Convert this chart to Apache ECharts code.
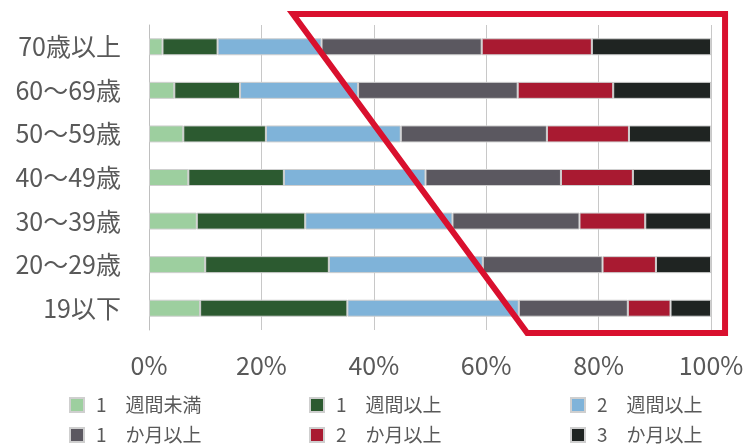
<!DOCTYPE html>
<html>
<head>
<meta charset="utf-8">
<script src="https://cdn.jsdelivr.net/npm/echarts@6/dist/echarts.min.js"></script>
<style>
html,body{margin:0;padding:0;background:#fff;}
#c{width:748px;height:446px;}
</style>
</head>
<body>
<div id="c"></div>
<script>
// Categories (top to bottom)
var categories = ['70歳以上', '60～69歳', '50～59歳', '40～49歳', '30～39歳', '20～29歳', '19以下'];
var xTicks = ['0%', '20%', '40%', '60%', '80%', '100%'];
var seriesNames = ['1 週間未満', '1 週間以上', '2 週間以上', '1 か月以上', '2 か月以上', '3 か月以上'];
// Series values (%), in category order
var lessThan1Week = [2.4, 4.5, 6.1, 7.0, 8.5, 10.0, 9.1];
var week1Plus     = [9.8, 11.7, 14.7, 17.0, 19.3, 22.0, 26.2];
var week2Plus     = [18.5, 21.0, 24.0, 25.2, 26.2, 27.4, 30.5];
var month1Plus    = [28.5, 28.4, 26.0, 24.1, 22.6, 21.3, 19.4];
var month2Plus    = [19.6, 17.0, 14.6, 12.8, 11.7, 9.5, 7.6];
var month3Plus    = [21.2, 17.4, 14.6, 13.9, 11.7, 9.8, 7.2];
// Highlight frame corners in x-axis percent
var frameX = { topLeft: 25.6, right: 102.5, bottomLeft: 67.3 };

var allValues = [lessThan1Week, week1Plus, week2Plus, month1Plus, month2Plus, month3Plus];
var colors = ['#9dcf9f', '#2c5a30', '#7fb3d9', '#5b5860', '#a91a31', '#1f2422'];
var font = '"Noto Sans CJK JP", "Noto Sans", sans-serif';

var chart = echarts.init(document.getElementById('c'), null, {renderer: 'canvas'});

var series = seriesNames.map(function (n, i) {
  return {
    name: n,
    type: 'bar',
    stack: 'total',
    barWidth: 17,
    data: allValues[i],
    itemStyle: { color: colors[i], borderColor: '#cfcfcf', borderWidth: 1 },
    emphasis: { disabled: true }
  };
});

var legendPos = [[69, 395], [309, 395], [570, 395], [69, 425], [309, 425], [570, 425]];
var legends = seriesNames.map(function (n, i) {
  return {
    data: [n],
    left: legendPos[i][0],
    top: legendPos[i][1],
    padding: 0,
    itemWidth: 14,
    itemHeight: 14,
    icon: 'rect',
    selectedMode: false,
    formatter: function (name) { return name.replace(' ', '\u3000'); },
    textStyle: { fontSize: 19, lineHeight: 20, color: '#595959', fontFamily: font, padding: [0, 0, 0, 7] }
  };
});

var grid = { left: 149, right: 37, top: 25, bottom: 116 };

chart.setOption({
  animation: false,
  backgroundColor: '#fff',
  textStyle: { fontFamily: font },
  grid: grid,
  legend: legends,
  xAxis: {
    type: 'value',
    min: 0,
    max: 100,
    interval: 20,
    axisLine: { show: false },
    axisTick: { show: false },
    splitLine: { show: true, lineStyle: { color: '#c8c8c8', width: 1 } },
    axisLabel: {
      fontSize: 25,
      color: '#595959',
      fontFamily: font,
      margin: 23,
      formatter: function (v) { return xTicks[Math.round(v / 20)]; }
    }
  },
  yAxis: {
    type: 'category',
    inverse: true,
    data: categories,
    axisLine: { show: true, lineStyle: { color: '#bfbfbf', width: 1 } },
    axisTick: { show: false },
    axisLabel: { fontSize: 25, color: '#595959', fontFamily: font, margin: 28 }
  },
  series: series
});

// Red highlight frame (annotation) placed from axis values
var xl = chart.convertToPixel({ xAxisIndex: 0 }, frameX.topLeft);
var xr = chart.convertToPixel({ xAxisIndex: 0 }, frameX.right);
var xb = chart.convertToPixel({ xAxisIndex: 0 }, frameX.bottomLeft);
var yTop = grid.top - 11;
var yBot = 446 - grid.bottom + 3;
chart.setOption({
  graphic: [{
    type: 'polygon',
    shape: { points: [[xl, yTop], [xr, yTop], [xr, yBot], [xb, yBot]] },
    style: { fill: 'none', stroke: '#d9102e', lineWidth: 6, lineJoin: 'miter' },
    z: 100,
    silent: true
  }]
});
</script>
</body>
</html>
